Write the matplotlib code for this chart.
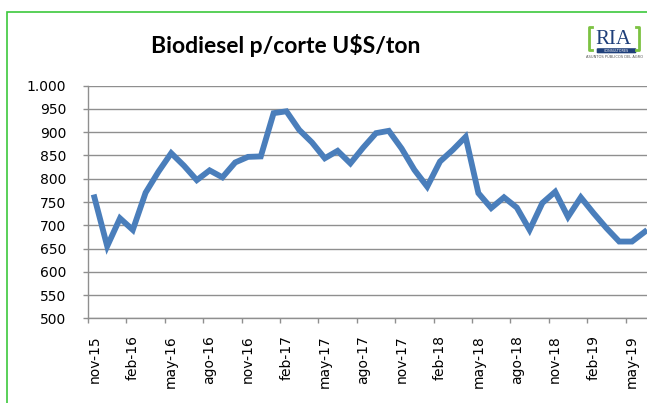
import matplotlib
matplotlib.use("Agg")
import matplotlib.pyplot as plt
from matplotlib.patches import Rectangle, FancyBboxPatch
from matplotlib.lines import Line2D

# --- Data (monthly, nov-15 .. jun-19) ---
PRICES = [760, 655, 715, 690, 770, 815, 855, 828, 797, 818, 803, 835,
          847, 848, 941, 945, 905, 878, 844, 860, 833, 867, 898, 903,
          865, 819, 783, 837, 862, 890, 769, 737, 760, 738, 690, 748,
          772, 718, 760, 726, 694, 665, 665, 686]
TICK_LABELS = ["nov-15", "feb-16", "may-16", "ago-16", "nov-16", "feb-17",
               "may-17", "ago-17", "nov-17", "feb-18", "may-18", "ago-18",
               "nov-18", "feb-19", "may-19"]
Y_TICKS = [500, 550, 600, 650, 700, 750, 800, 850, 900, 950, 1000]

# --- Layout ---
W, H, DPI = 647, 403, 100
LINE_COLOR = "#4a7ebb"
GRID_COLOR = "#8f8f8f"
BORDER_COLOR = "#3cc83c"
LOGO_BLUE = "#1f3f7a"
LOGO_GREEN = "#7cc242"

def fx(px):
    return px / W

def fy(py):
    return 1 - py / H

fig = plt.figure(figsize=(W / DPI, H / DPI), dpi=DPI)
fig.patch.set_facecolor("white")

# green chart border (only top/left edges fall inside the picture)
fig.add_artist(Rectangle((fx(7), -0.1), 1.2, fy(12) + 0.1, transform=fig.transFigure,
                         fill=False, edgecolor=BORDER_COLOR, lw=1.2))

left, right, top, bottom = 88, 651.2, 85.7, 318.3
ax = fig.add_axes([fx(left), fy(bottom), (right - left) / W, (bottom - top) / H])
ax.set_facecolor("white")

x = list(range(len(PRICES)))
ax.plot(x, PRICES, color=LINE_COLOR, lw=4.2, solid_joinstyle="miter", clip_on=False, zorder=3)

ax.set_xlim(-0.5, len(PRICES) - 0.5)
ax.set_ylim(500, 1000)
ax.set_yticks(Y_TICKS, [f"{v:,}".replace(",", ".") for v in Y_TICKS])
ax.yaxis.grid(True, color=GRID_COLOR, lw=1)
ax.set_axisbelow(True)

label_pos = list(range(0, len(PRICES), 3))
ax.set_xticks(label_pos, TICK_LABELS, rotation=90)
ax.set_xticks([p - 0.5 for p in label_pos] + [len(PRICES) - 0.5], minor=True)
ax.tick_params(axis="x", which="major", length=0, pad=12, labelsize=10, colors="black")
ax.tick_params(axis="x", which="minor", length=3.6, color=GRID_COLOR, width=1)
ax.tick_params(axis="y", length=3.6, color=GRID_COLOR, width=1, labelsize=10, pad=12)

for s in ["top", "right"]:
    ax.spines[s].set_visible(False)
for s in ["left", "bottom"]:
    ax.spines[s].set_color(GRID_COLOR)
    ax.spines[s].set_linewidth(1)

fig.text(fx(286), fy(53), "Biodiesel p/corte U$S/ton", ha="center", va="baseline",
         fontsize=16.5, fontweight="bold", family=["Lato", "DejaVu Sans"])

# --- RIA logo ---
fig.text(fx(613), fy(43.5), "RIA", ha="center", va="baseline", fontsize=15,
         family="Liberation Serif", color=LOGO_BLUE)
for xs, xe in [(592, 589), (636, 639)]:
    fig.add_artist(Line2D([fx(xs), fx(xe), fx(xe), fx(xs)], [fy(27), fy(27), fy(50), fy(50)],
                          transform=fig.transFigure, color=LOGO_GREEN, lw=2))
fig.add_artist(FancyBboxPatch((fx(598), fy(52.5)), 37 / W, 3.5 / H, transform=fig.transFigure,
                              boxstyle="round,pad=0.002", fc=LOGO_BLUE, ec="none"))
fig.text(fx(616.5), fy(50.8), "CONSULTORES", ha="center", va="center", fontsize=2.4,
         color="white")
fig.text(fx(614), fy(57), "ASUNTOS PÚBLICOS DEL AGRO", ha="center", va="center",
         fontsize=2.6, color="#555555")

fig.savefig("out.png", dpi=DPI)
